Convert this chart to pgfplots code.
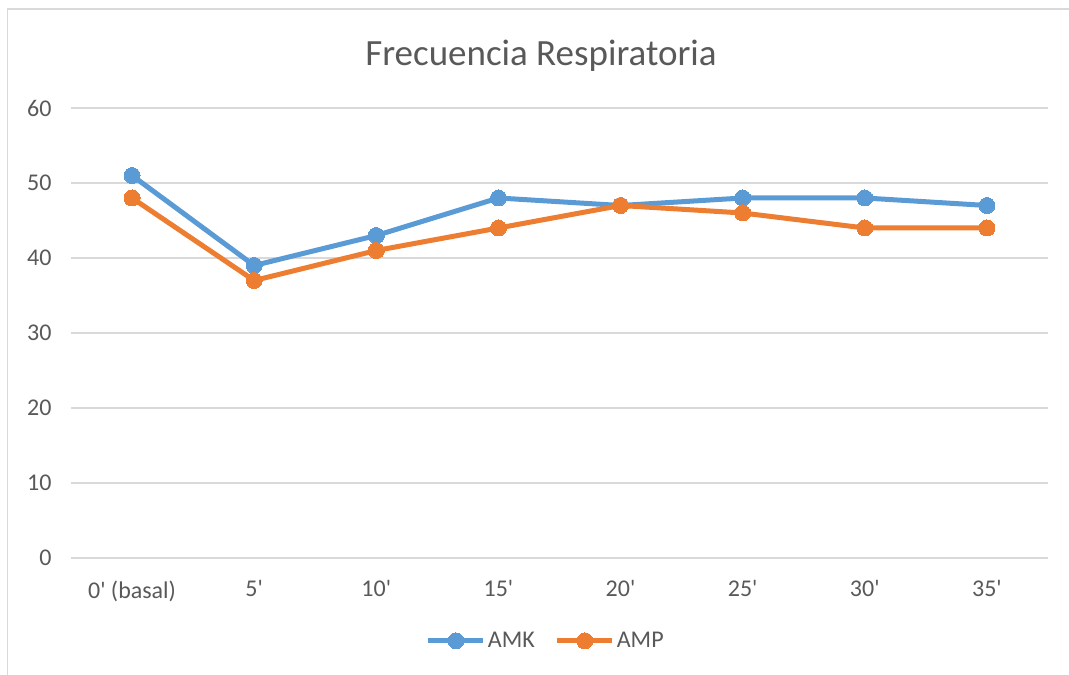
\documentclass[border=0pt]{standalone}
\usepackage{pgfplots}
\pgfplotsset{compat=1.18}
\usetikzlibrary{calc}
\usepackage{fontspec}
\setmainfont{Carlito}
\definecolor{cblue}{HTML}{5B9BD5}
\definecolor{corange}{HTML}{ED7D31}
\definecolor{cgrid}{HTML}{D9D9D9}
\definecolor{ctext}{HTML}{595959}
\newcommand{\q}{\textquotesingle}
\begin{document}
\begin{tikzpicture}
\begin{axis}[
  name=ax,
  scale only axis, width=977pt, height=450pt,
  xmin=-0.5, xmax=7.5, ymin=0, ymax=60,
  xtick={0,...,7},
  xticklabels={0\q{} (basal),5\q,10\q,15\q,20\q,25\q,30\q,35\q},
  ytick={0,10,...,60},
  axis line style={draw=none},
  major tick length=0pt,
  ymajorgrids, grid style={cgrid,line width=1.5pt},
  tick label style={text=ctext,font=\fontsize{24}{29}\selectfont},
  /pgf/number format/assume math mode=true,
  xticklabel style={yshift=-19pt},
  yticklabel style={xshift=-16pt},
  clip=false,
  legend columns=2,
  legend style={draw=none, fill=none, at={(0.486,-0.184)}, anchor=center,
    font=\fontsize{24}{29}\selectfont, text=ctext,
    /tikz/every even column/.append style={column sep=18pt},
    inner sep=0pt, nodes={inner sep=2pt}},
  legend image code/.code={\draw[#1,mark repeat=2,mark phase=2] plot coordinates {(0pt,0pt) (27.5pt,0pt) (55pt,0pt)};},
]
\addplot[cblue, line width=5pt, mark=*, mark size=8pt, mark options={line width=0pt}] coordinates {
 (0,51) (1,39) (2,43) (3,48) (4,47) (5,48) (6,48) (7,47)};
\addlegendentry{AMK}
\addplot[corange, line width=5pt, mark=*, mark size=8pt, mark options={line width=0pt}] coordinates {
 (0,48) (1,37) (2,41) (3,44) (4,47) (5,46) (6,44) (7,44)};
\addlegendentry{AMP}
\end{axis}
\begin{scope}[shift={($(ax.south west)+(-71pt,-117pt)$)}, x=1pt, y=1pt]
\pgfresetboundingbox
\path[use as bounding box] (0,0) rectangle (1069,675);
\draw[cgrid,line width=1.5pt] (7.5,0) -- (7.5,666) -- (1069,666);
\node[text=ctext,font=\fontsize{37}{44}\selectfont] at (541,619) {Frecuencia Respiratoria};
\end{scope}
\end{tikzpicture}
\end{document}
